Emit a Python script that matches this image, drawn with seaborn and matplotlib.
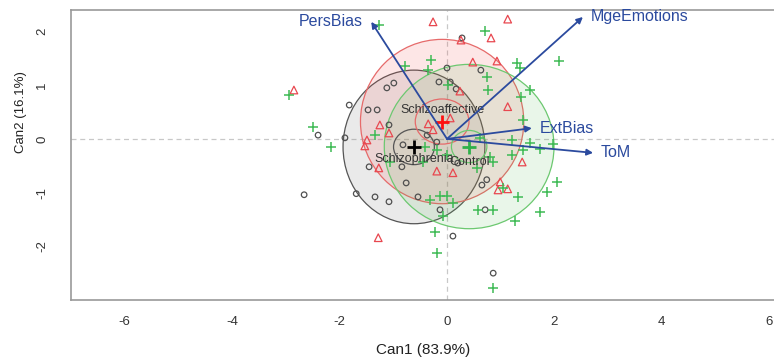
import numpy as np
import pandas as pd
import matplotlib
matplotlib.use("Agg")
import matplotlib.pyplot as plt
from matplotlib.patches import Ellipse
import seaborn as sns


# canonical scores, one group at a time
szp_x = [-2.66, -2.40, -1.82, -1.90, -1.47, -1.30, -1.12, -0.99, -1.08, -1.45, -1.69, -1.34,
         -1.08, -0.84, -0.76, -0.54, -0.82, -0.37, -0.19, -0.13, 0.11, 0.00, -0.15, 0.06,
         0.17, 0.28, 0.63, 0.20, 0.65, 0.74, 0.71, 0.86]
szp_y = [-1.04, 0.07, 0.63, 0.02, 0.54, 0.54, 0.95, 1.04, 0.26, -0.52, -1.02, -1.08,
         -1.17, -0.52, -0.82, -1.08, -0.11, 0.07, -0.06, -1.32, -1.81, 1.32, 1.06, 1.06,
         0.93, 1.88, 1.28, -0.45, -0.86, -0.76, -1.32, -2.50]

sza_x = [-2.85, -0.26, 1.13, 0.26, 0.82, 0.48, 0.93, 0.24, 1.13, -1.25, -1.08, -1.49,
         -1.53, -1.27, -0.35, -0.26, 0.06, -0.19, 0.11, 1.40, 0.99, 0.95, 1.13, -1.28]
sza_y = [0.91, 2.18, 2.23, 1.84, 1.88, 1.43, 1.45, 0.89, 0.60, 0.26, 0.11, -0.02,
         -0.13, -0.54, 0.28, 0.17, 0.39, -0.60, -0.63, -0.43, -0.80, -0.95, -0.93, -1.84]

ctl_x = [-2.94, -2.49, -2.16, -1.27, 0.71, -0.30, -0.78, -0.35, 0.02, 0.74, 0.76, 1.30,
         1.36, 2.08, 1.54, 1.38, 1.41, -1.34, -1.06, -0.41, -0.19, 0.00, -0.45, 0.61,
         0.80, 0.86, 0.56, 1.21, 1.54, 1.73, 1.97, 1.21, 1.41, 1.04, 1.32, 1.86,
         2.05, -0.13, 0.00, -0.32, 0.11, 0.58, 0.86, 1.27, 1.73, -0.07, -0.22, -0.19, 0.86]
ctl_y = [0.82, 0.22, -0.15, 2.12, 2.01, 1.47, 1.36, 1.28, 1.01, 1.15, 0.91, 1.42,
         1.32, 1.45, 0.91, 0.78, 0.35, 0.07, -0.43, -0.15, -0.20, -0.30, -0.43, 0.02,
         -0.34, -0.43, -0.54, -0.02, -0.07, -0.19, -0.09, -0.30, -0.20, -0.91, -1.08, -0.99,
         -0.80, -1.06, -1.06, -1.14, -1.19, -1.32, -1.32, -1.53, -1.36, -1.43, -1.73, -2.12, -2.77]

groups = ["Schizophrenia", "Schizoaffective", "Control"]
# data ellipse half-axes and mean ellipse half-axes (Can1, Can2)
data_rx = [1.32, 1.52, 1.58]
data_ry = [1.43, 1.53, 1.53]
mean_rx = [0.38, 0.50, 0.33]
mean_ry = [0.33, 0.42, 0.30]

# structure vectors
vars_ = ["PersBias", "MgeEmotions", "ExtBias", "ToM"]
vec_x = [-1.41, 2.53, 1.58, 2.72]
vec_y = [2.18, 2.27, 0.20, -0.26]

df = pd.concat([
    pd.DataFrame({"Can1": szp_x, "Can2": szp_y, "Group": groups[0]}),
    pd.DataFrame({"Can1": sza_x, "Can2": sza_y, "Group": groups[1]}),
    pd.DataFrame({"Can1": ctl_x, "Can2": ctl_y, "Group": groups[2]}),
])
means = df.groupby("Group", sort=False)[["Can1", "Can2"]].mean().reset_index()

sns.set_style("white")
plt.rcParams["font.family"] = ["Liberation Sans", "DejaVu Sans"]
plt.rcParams["axes.unicode_minus"] = False

line_cols = ["#555555", "#e66a6a", "#6cc870"]
fill_cols = [(0.45, 0.45, 0.45, 0.15), (0.95, 0.25, 0.25, 0.13), (0.35, 0.75, 0.35, 0.13)]
pt_cols = ["#505050", "#e8474f", "#3fba55"]
markers = ["o", "^", "+"]
arrow_col = "#2b4a9e"

fig = plt.figure(figsize=(7.74, 3.63), dpi=100)
ax = fig.add_axes([71 / 774, 63 / 363, 752 / 774, 290 / 363])
ax.set_xlim(-7, 7)
ax.set_ylim(-3.0, 2.4)

ax.axhline(0, color="#c8c8c8", lw=0.9, ls=(0, (4, 3)), zorder=0)
ax.axvline(0, color="#c8c8c8", lw=0.9, ls=(0, (4, 3)), zorder=0)

for i, g in enumerate(groups):
    cx, cy = means.loc[means["Group"] == g, ["Can1", "Can2"]].values[0]
    ax.add_patch(Ellipse((cx, cy), 2 * data_rx[i], 2 * data_ry[i],
                         facecolor=fill_cols[i], edgecolor=line_cols[i], lw=0.9, zorder=1))
    ax.add_patch(Ellipse((cx, cy), 2 * mean_rx[i], 2 * mean_ry[i],
                         facecolor="none", edgecolor=line_cols[i], lw=0.9, zorder=2))

for i, g in enumerate(groups):
    sub = df[df["Group"] == g]
    if markers[i] == "+":
        sns.scatterplot(x=sub["Can1"], y=sub["Can2"], marker="+", s=45, color=pt_cols[i],
                        linewidth=1.1, ax=ax, legend=False, zorder=3)
    else:
        sns.scatterplot(x=sub["Can1"], y=sub["Can2"], marker=markers[i],
                        s=16 if markers[i] == "o" else 30, color=pt_cols[i],
                        linewidth=0.9, ax=ax, legend=False, zorder=3)
        ax.collections[-1].set_facecolor("none")
        ax.collections[-1].set_edgecolor(pt_cols[i])

# group means
for i, g in enumerate(groups):
    row = means[means["Group"] == g]
    sns.scatterplot(x=row["Can1"], y=row["Can2"], marker="+", s=110,
                    color=["#000000", "#ff1010", "#2fb04a"][i], linewidth=2.0,
                    ax=ax, legend=False, zorder=5)

label_dy = [-12, 12, -15]
for i, g in enumerate(groups):
    cx, cy = means.loc[means["Group"] == g, ["Can1", "Can2"]].values[0]
    ax.annotate(g, (cx, cy), xytext=(0, label_dy[i]), textcoords="offset pixels",
                ha="center", va="center", fontsize=9, color="#333333", zorder=6)

# variable vectors
for name, vx, vy in zip(vars_, vec_x, vec_y):
    ax.annotate("", xy=(vx, vy), xytext=(0, 0),
                arrowprops=dict(arrowstyle="-|>", color=arrow_col, lw=1.3,
                                mutation_scale=9, shrinkA=0, shrinkB=0), zorder=7)
    left = vx < 0
    ax.annotate(name, (vx, vy), xytext=(-9 if left else 8, 0), textcoords="offset pixels",
                ha="right" if left else "left", va="center", fontsize=11.5,
                color=arrow_col, zorder=7)

ax.set_xticks([-6, -4, -2, 0, 2, 4, 6])
ax.set_yticks([-2, -1, 0, 1, 2])
ax.tick_params(axis="both", direction="out", length=6.5, width=0.9, color="#888888",
               labelcolor="#333333", labelsize=9.5)
ax.tick_params(axis="x", pad=5)
ax.tick_params(axis="y", pad=10)
for t in ax.get_yticklabels():
    t.set_rotation(90)
    t.set_va("center")
for s in ax.spines.values():
    s.set_color("#999999")
    s.set_linewidth(1.2)

ax.set_xlabel("Can1 (83.9%)", fontsize=11, color="#222222")
ax.set_ylabel("Can2 (16.1%)", fontsize=9.5, color="#222222")
ax.xaxis.set_label_coords(0.468, -0.148)
ax.yaxis.set_label_coords(-0.058, 0.648)

fig.savefig("out.png", dpi=100)
